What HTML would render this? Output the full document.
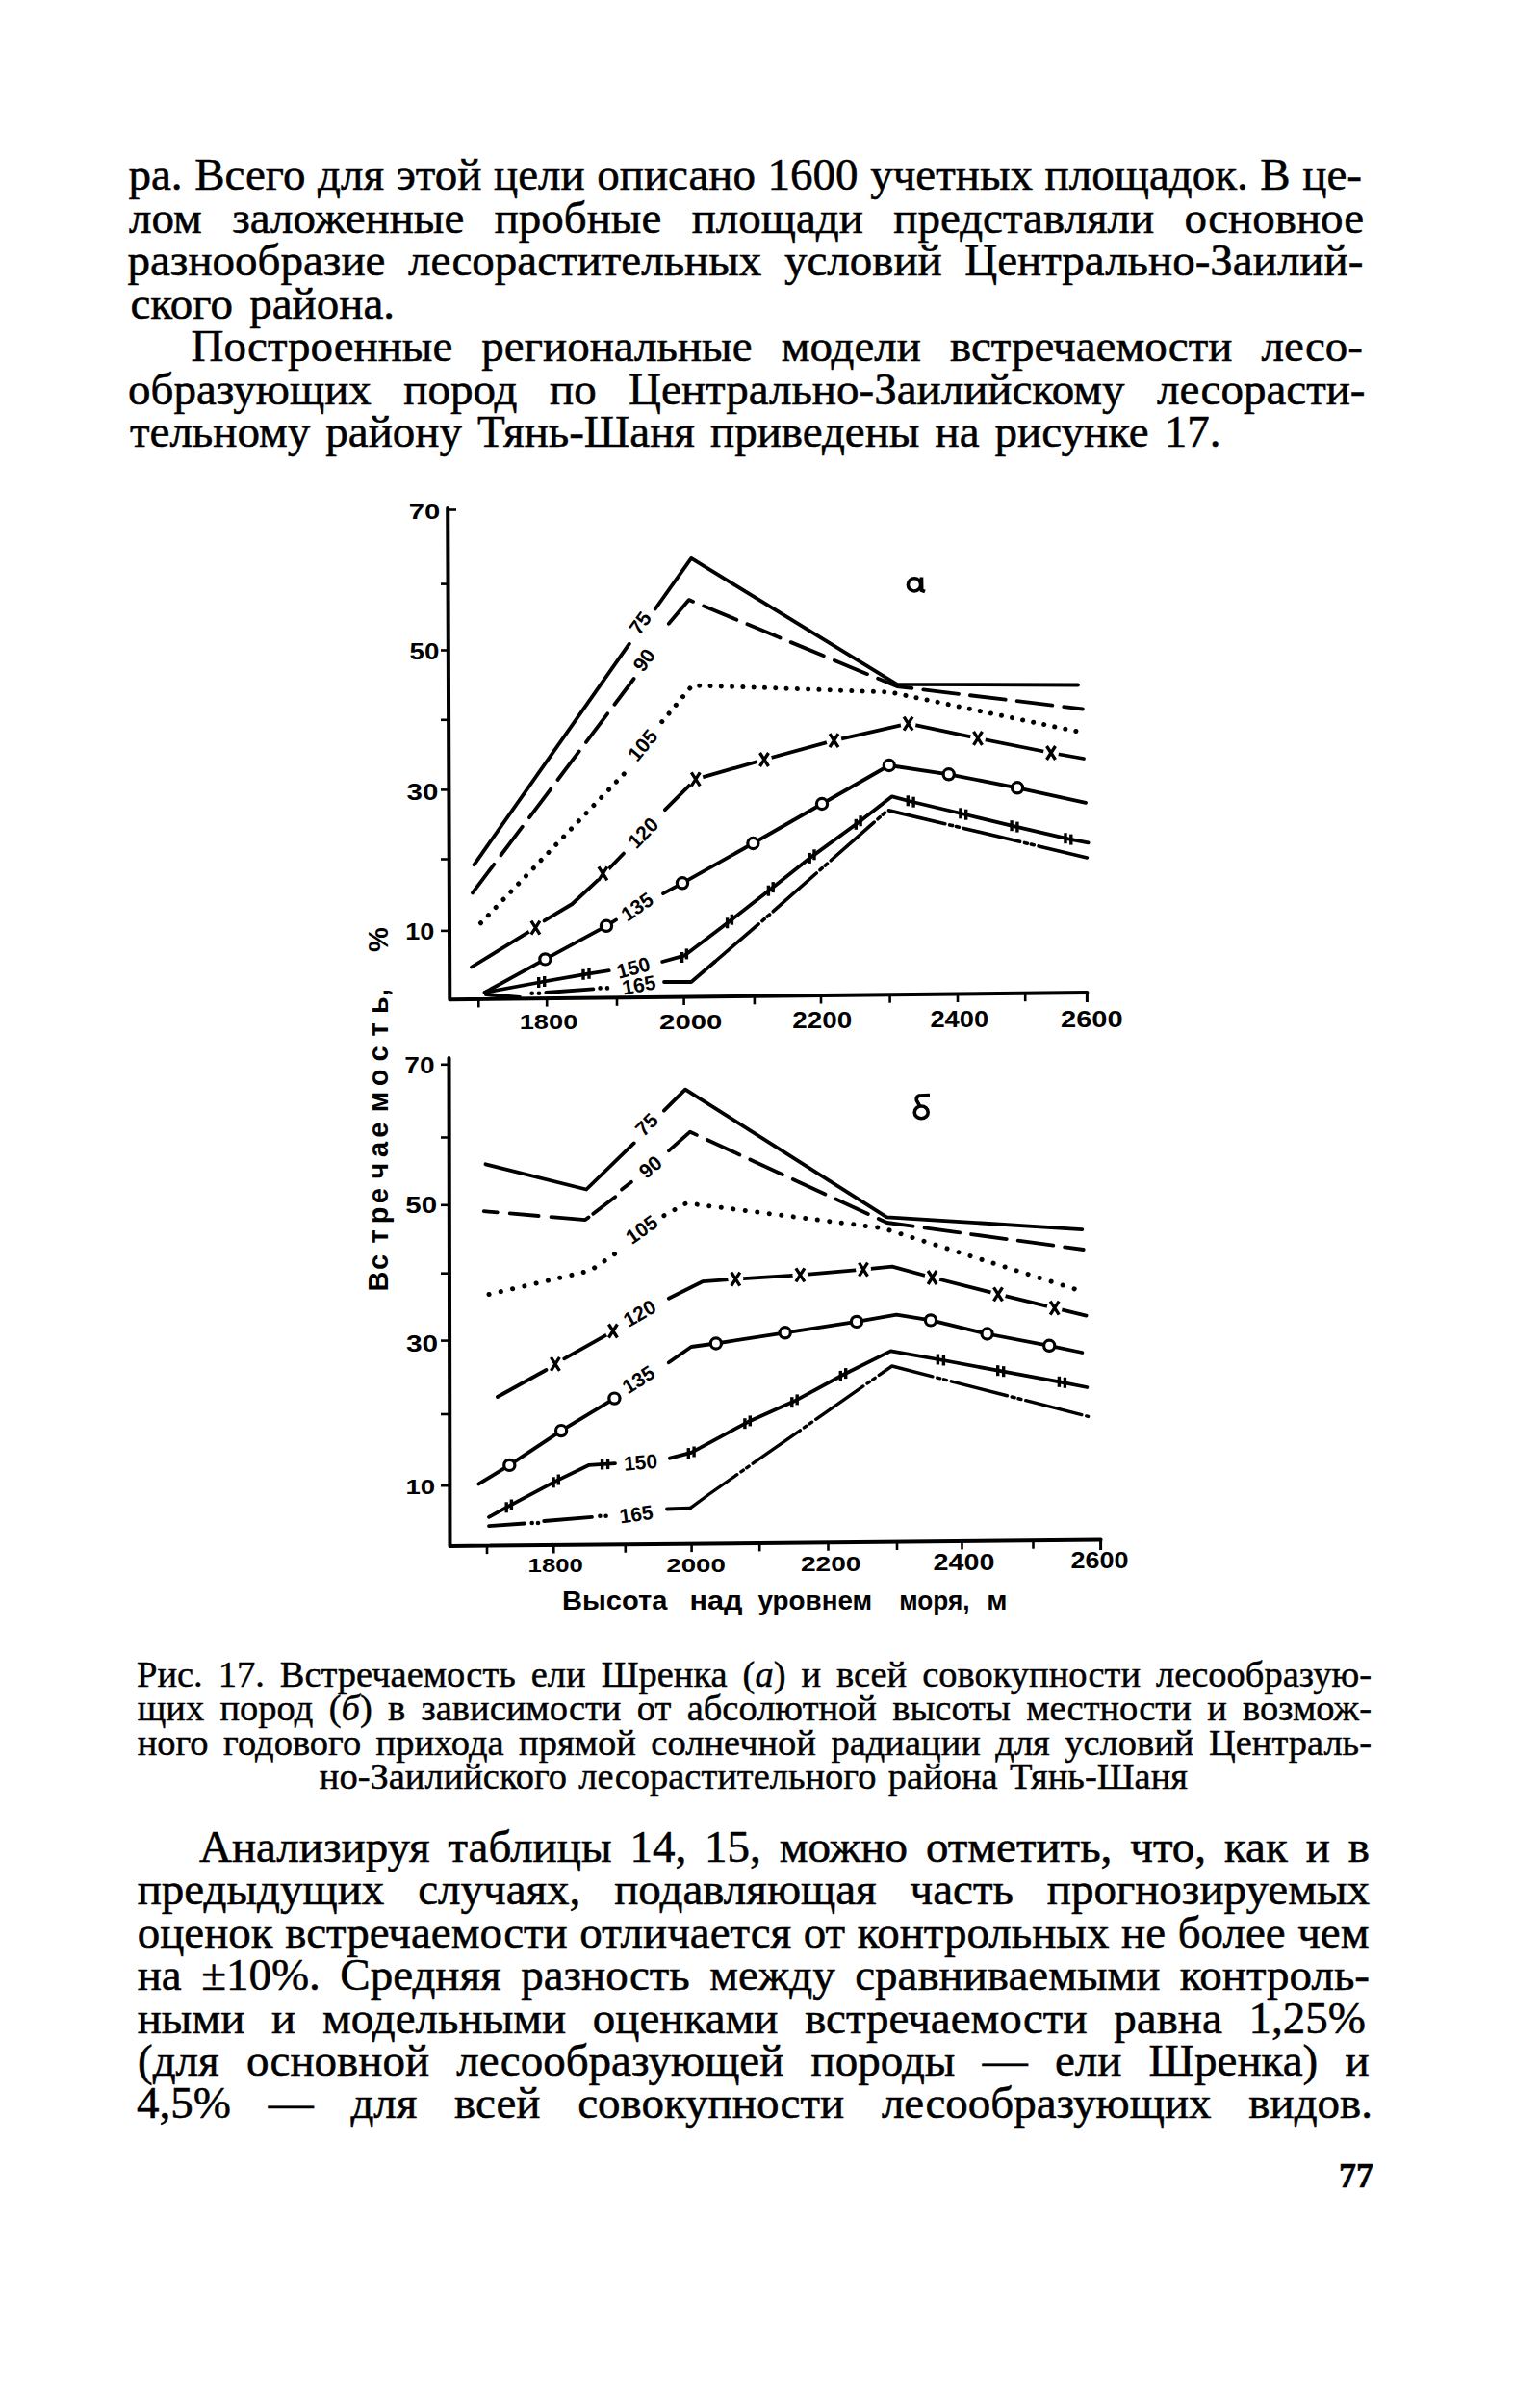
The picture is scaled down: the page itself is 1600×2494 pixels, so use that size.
<!DOCTYPE html>
<html><head><meta charset="utf-8"><style>
html,body{margin:0;padding:0;background:#fff;}
body{width:1600px;height:2494px;position:relative;overflow:hidden;}
.l{position:absolute;white-space:nowrap;font-family:"Liberation Serif",serif;color:#000;-webkit-text-stroke:0.55px #000;}
.b{font-size:47px;line-height:50px;height:50px;}
.c{font-size:38.5px;line-height:40px;height:40px;-webkit-text-stroke:0.45px #000;}
.j{text-align:justify;text-align-last:justify;}
svg{position:absolute;left:0;top:0;}
</style></head><body>

<div class="l b j" style="left:133.5px;top:156.1px;width:1281.5px;">ра. Всего для этой цели описано 1600 учетных площадок. В це-</div>
<div class="l b j" style="left:134.0px;top:200.6px;width:1283.0px;">лом заложенные пробные площади представляли основное</div>
<div class="l b j" style="left:132.5px;top:245.1px;width:1283.8px;">разнообразие лесорастительных условий Центрально-Заилий-</div>
<div class="l b j" style="left:135.5px;top:289.6px;width:274.5px;">ского района.</div>
<div class="l b j" style="left:198.5px;top:334.1px;width:1217.5px;">Построенные региональные модели встречаемости лесо-</div>
<div class="l b j" style="left:133.0px;top:378.6px;width:1285.5px;">образующих пород по Центрально-Заилийскому лесорасти-</div>
<div class="l b j" style="left:135.0px;top:423.1px;width:1133.5px;">тельному району Тянь-Шаня приведены на рисунке 17.</div>
<div class="l c j" style="left:142.0px;top:1718.8px;width:1283.0px;">Рис. 17. Встречаемость ели Шренка (<i>а</i>) и всей совокупности лесообразую-</div>
<div class="l c j" style="left:142.7px;top:1754.0px;width:1282.3px;">щих пород (<i>б</i>) в зависимости от абсолютной высоты местности и возмож-</div>
<div class="l c j" style="left:142.7px;top:1789.5px;width:1282.3px;">ного годового прихода прямой солнечной радиации для условий Централь-</div>
<div class="l c j" style="left:331.8px;top:1825.0px;width:902.2px;">но-Заилийского лесорастительного района Тянь-Шаня</div>
<div class="l b j" style="left:207.0px;top:1892.6px;width:1216.0px;">Анализируя таблицы 14, 15, можно отметить, что, как и в</div>
<div class="l b j" style="left:142.7px;top:1937.1px;width:1280.3px;">предыдущих случаях, подавляющая часть прогнозируемых</div>
<div class="l b j" style="left:142.7px;top:1981.6px;width:1279.8px;">оценок встречаемости отличается от контрольных не более чем</div>
<div class="l b j" style="left:142.7px;top:2026.1px;width:1280.3px;">на ±10%. Средняя разность между сравниваемыми контроль-</div>
<div class="l b j" style="left:142.7px;top:2070.6px;width:1276.3px;">ными и модельными оценками встречаемости равна 1,25%</div>
<div class="l b j" style="left:143.0px;top:2115.1px;width:1279.6px;">(для основной лесообразующей породы — ели Шренка) и</div>
<div class="l b j" style="left:142.0px;top:2158.6px;width:1284.0px;">4,5% — для всей совокупности лесообразующих видов.</div>
<div class="l" style="font-size:36px;font-weight:bold;line-height:40px;left:1391px;top:2239.8px">77</div>
<svg width="1600" height="2494" viewBox="0 0 1600 2494" font-family="Liberation Sans, sans-serif">
<polyline points="465.2,528.0 467.3,1038.2 1129.4,1031.0" fill="none" stroke="#000" stroke-linejoin="round" stroke-linecap="round" stroke-width="4" stroke-linecap="butt" stroke-linejoin="miter"/>
<path d="M466.5,529.5L474.0,529.5" stroke="#000" stroke-width="2.6"/>
<path d="M458.0,606.6L467.0,606.6" stroke="#000" stroke-width="2.6"/>
<path d="M458.0,675.5L467.0,675.5" stroke="#000" stroke-width="2.6"/>
<path d="M458.0,747.8L467.0,747.8" stroke="#000" stroke-width="2.6"/>
<path d="M458.0,820.4L467.0,820.4" stroke="#000" stroke-width="2.6"/>
<path d="M458.0,892.5L467.0,892.5" stroke="#000" stroke-width="2.6"/>
<path d="M458.0,966.9L467.0,966.9" stroke="#000" stroke-width="2.6"/>
<path d="M497.3,1037.9L497.3,1046.4" stroke="#000" stroke-width="2.6"/>
<path d="M568.2,1037.1L568.2,1045.6" stroke="#000" stroke-width="2.6"/>
<path d="M641.0,1036.3L641.0,1044.8" stroke="#000" stroke-width="2.6"/>
<path d="M710.6,1035.5L710.6,1044.0" stroke="#000" stroke-width="2.6"/>
<path d="M783.9,1034.8L783.9,1043.3" stroke="#000" stroke-width="2.6"/>
<path d="M853.0,1034.0L853.0,1042.5" stroke="#000" stroke-width="2.6"/>
<path d="M924.6,1033.2L924.6,1041.7" stroke="#000" stroke-width="2.6"/>
<path d="M995.0,1032.5L995.0,1041.0" stroke="#000" stroke-width="2.6"/>
<path d="M1065.2,1031.7L1065.2,1040.2" stroke="#000" stroke-width="2.6"/>
<path d="M1129.4,1031.0L1129.4,1041.0" stroke="#000" stroke-width="3"/>
<text x="424.7" y="539.1" font-size="21.2" font-weight="bold" textLength="32.5" lengthAdjust="spacingAndGlyphs" >70</text>
<text x="425.6" y="685.0" font-size="23.2" font-weight="bold" textLength="30.8" lengthAdjust="spacingAndGlyphs" >50</text>
<text x="422.6" y="830.5" font-size="23.2" font-weight="bold" textLength="32.8" lengthAdjust="spacingAndGlyphs" >30</text>
<text x="421.3" y="975.5" font-size="23.2" font-weight="bold" textLength="30.1" lengthAdjust="spacingAndGlyphs" >10</text>
<text x="539.7" y="1069.0" font-size="22.5" font-weight="bold" textLength="60.7" lengthAdjust="spacingAndGlyphs" >1800</text>
<text x="685.1" y="1069.0" font-size="21.7" font-weight="bold" textLength="65.2" lengthAdjust="spacingAndGlyphs" >2000</text>
<text x="823.3" y="1068.0" font-size="23.2" font-weight="bold" textLength="62.0" lengthAdjust="spacingAndGlyphs" >2200</text>
<text x="966.4" y="1066.7" font-size="23.2" font-weight="bold" textLength="60.8" lengthAdjust="spacingAndGlyphs" >2400</text>
<text x="1102.0" y="1066.7" font-size="24.6" font-weight="bold" textLength="64.7" lengthAdjust="spacingAndGlyphs" >2600</text>
<ellipse cx="950" cy="607.4" rx="6.6" ry="6.6" fill="none" stroke="#000" stroke-width="3.6"/><path d="M957.4,599.5 L957.6,613.2 L961,614.6" fill="none" stroke="#000" stroke-width="3.8"/>
<polyline points="492.5,898.3 653.9,668.7" fill="none" stroke="#000" stroke-linejoin="round" stroke-linecap="round" stroke-width="3.8"/>
<polyline points="680.8,632.5 718.2,579.9 932.0,710.8 1120.0,711.5" fill="none" stroke="#000" stroke-linejoin="round" stroke-linecap="round" stroke-width="3.8"/>
<text x="0" y="0" font-size="21" font-weight="bold" text-anchor="middle" dominant-baseline="central" stroke="#000" stroke-width="0" transform="translate(665.0 647.0) rotate(-54.0)">75</text>
<polyline points="491.0,927.4 658.6,705.0" fill="none" stroke="#000" stroke-linejoin="round" stroke-linecap="round" stroke-width="3.8" stroke-dasharray="37 12" stroke-linecap="butt"/>
<polyline points="694.8,647.7 715.8,623.1 932.0,713.0 1124.8,736.5" fill="none" stroke="#000" stroke-linejoin="round" stroke-linecap="round" stroke-width="3.8" stroke-dasharray="37 12" stroke-linecap="butt"/>
<text x="0" y="0" font-size="21" font-weight="bold" text-anchor="middle" dominant-baseline="central" stroke="#000" stroke-width="0" transform="translate(669.0 685.5) rotate(-54.0)">90</text>
<polyline points="499.5,958.8 651.4,800.6" fill="none" stroke="#000" stroke-linejoin="round" stroke-linecap="round" stroke-width="5" stroke-dasharray="0.1 11.2"/>
<polyline points="687.8,749.7 719.3,712.0 780.0,713.8 925.0,719.0 1124.8,761.0" fill="none" stroke="#000" stroke-linejoin="round" stroke-linecap="round" stroke-width="5" stroke-dasharray="0.1 11.2"/>
<text x="0" y="0" font-size="21" font-weight="bold" text-anchor="middle" dominant-baseline="central" stroke="#000" stroke-width="0" transform="translate(667.5 774.0) rotate(-50.0)">105</text>
<polyline points="490.0,1004.5 556.4,963.6" fill="none" stroke="#000" stroke-linejoin="round" stroke-linecap="round" stroke-width="3.8"/>
<polyline points="565.5,956.4 594.5,939.0 621.8,913.6 648.0,886.5" fill="none" stroke="#000" stroke-linejoin="round" stroke-linecap="round" stroke-width="3.8"/>
<polyline points="690.9,841.2 722.8,809.4 794.0,789.0 866.5,769.2 943.6,751.7 1016.0,766.9 1092.0,782.0 1126.0,788.0" fill="none" stroke="#000" stroke-linejoin="round" stroke-linecap="round" stroke-width="3.8"/>
<circle cx="556.4" cy="963.6" r="8" fill="#fff"/>
<path d="M551.9,956.6L560.9,970.6M560.9,956.6L551.9,970.6" stroke="#000" stroke-width="3.3" fill="none"/>
<circle cx="626.4" cy="907.3" r="8" fill="#fff"/>
<path d="M621.9,900.3L630.9,914.3M630.9,900.3L621.9,914.3" stroke="#000" stroke-width="3.3" fill="none"/>
<circle cx="722.8" cy="809.4" r="8" fill="#fff"/>
<path d="M718.3,802.4L727.3,816.4M727.3,802.4L718.3,816.4" stroke="#000" stroke-width="3.3" fill="none"/>
<circle cx="794.0" cy="789.0" r="8" fill="#fff"/>
<path d="M789.5,782.0L798.5,796.0M798.5,782.0L789.5,796.0" stroke="#000" stroke-width="3.3" fill="none"/>
<circle cx="866.5" cy="769.2" r="8" fill="#fff"/>
<path d="M862.0,762.2L871.0,776.2M871.0,762.2L862.0,776.2" stroke="#000" stroke-width="3.3" fill="none"/>
<circle cx="943.6" cy="751.7" r="8" fill="#fff"/>
<path d="M939.1,744.7L948.1,758.7M948.1,744.7L939.1,758.7" stroke="#000" stroke-width="3.3" fill="none"/>
<circle cx="1016.0" cy="766.9" r="8" fill="#fff"/>
<path d="M1011.5,759.9L1020.5,773.9M1020.5,759.9L1011.5,773.9" stroke="#000" stroke-width="3.3" fill="none"/>
<circle cx="1092.0" cy="782.0" r="8" fill="#fff"/>
<path d="M1087.5,775.0L1096.5,789.0M1096.5,775.0L1087.5,789.0" stroke="#000" stroke-width="3.3" fill="none"/>
<text x="0" y="0" font-size="21" font-weight="bold" text-anchor="middle" dominant-baseline="central" stroke="#000" stroke-width="0" transform="translate(668.0 865.0) rotate(-46.0)">120</text>
<polyline points="503.6,1030.9 566.4,996.4 630.0,961.8 640.0,955.5" fill="none" stroke="#000" stroke-linejoin="round" stroke-linecap="round" stroke-width="3.8"/>
<polyline points="689.0,928.2 709.0,917.3 782.4,876.0 854.0,835.0 923.8,795.0 985.7,804.3 1057.0,818.3 1128.0,833.8" fill="none" stroke="#000" stroke-linejoin="round" stroke-linecap="round" stroke-width="3.8"/>
<circle cx="566.4" cy="996.4" r="5.6" fill="#fff" stroke="#000" stroke-width="3.2"/>
<circle cx="630.0" cy="961.8" r="5.6" fill="#fff" stroke="#000" stroke-width="3.2"/>
<circle cx="709.0" cy="917.3" r="5.6" fill="#fff" stroke="#000" stroke-width="3.2"/>
<circle cx="782.4" cy="876.0" r="5.6" fill="#fff" stroke="#000" stroke-width="3.2"/>
<circle cx="854.0" cy="835.0" r="5.6" fill="#fff" stroke="#000" stroke-width="3.2"/>
<circle cx="923.8" cy="795.0" r="5.6" fill="#fff" stroke="#000" stroke-width="3.2"/>
<circle cx="985.7" cy="804.3" r="5.6" fill="#fff" stroke="#000" stroke-width="3.2"/>
<circle cx="1057.0" cy="818.3" r="5.6" fill="#fff" stroke="#000" stroke-width="3.2"/>
<text x="0" y="0" font-size="21" font-weight="bold" text-anchor="middle" dominant-baseline="central" stroke="#000" stroke-width="0" transform="translate(661.8 941.7) rotate(-35.0)">135</text>
<polyline points="503.6,1030.9 562.7,1020.0 609.0,1011.8 632.7,1008.2" fill="none" stroke="#000" stroke-linejoin="round" stroke-linecap="round" stroke-width="3.8"/>
<polyline points="688.2,999.0 711.0,992.7 756.4,958.2 800.8,923.4 843.6,889.6 891.7,854.5 926.8,827.3 946.2,832.5 1000.8,845.5 1054.0,858.4 1109.9,871.4 1130.6,875.3" fill="none" stroke="#000" stroke-linejoin="round" stroke-linecap="round" stroke-width="3.8"/>
<path d="M559.7,1015.0L559.7,1026.0" stroke="#000" stroke-width="3.4"/>
<path d="M565.7,1014.0L565.7,1025.0" stroke="#000" stroke-width="3.4"/>
<path d="M606.0,1006.8L606.0,1017.8" stroke="#000" stroke-width="3.4"/>
<path d="M612.0,1005.8L612.0,1016.8" stroke="#000" stroke-width="3.4"/>
<path d="M708.6,989.0L708.6,1000.0" stroke="#000" stroke-width="3.4"/>
<path d="M713.4,985.4L713.4,996.4" stroke="#000" stroke-width="3.4"/>
<path d="M755.6,953.3L755.6,964.3" stroke="#000" stroke-width="3.4"/>
<path d="M760.4,949.7L760.4,960.7" stroke="#000" stroke-width="3.4"/>
<path d="M798.4,919.7L798.4,930.7" stroke="#000" stroke-width="3.4"/>
<path d="M803.2,916.1L803.2,927.1" stroke="#000" stroke-width="3.4"/>
<path d="M841.2,885.9L841.2,896.9" stroke="#000" stroke-width="3.4"/>
<path d="M846.0,882.3L846.0,893.3" stroke="#000" stroke-width="3.4"/>
<path d="M889.3,850.8L889.3,861.8" stroke="#000" stroke-width="3.4"/>
<path d="M894.1,847.2L894.1,858.2" stroke="#000" stroke-width="3.4"/>
<path d="M943.3,826.3L943.3,837.3" stroke="#000" stroke-width="3.4"/>
<path d="M949.1,827.7L949.1,838.7" stroke="#000" stroke-width="3.4"/>
<path d="M997.9,839.3L997.9,850.3" stroke="#000" stroke-width="3.4"/>
<path d="M1003.7,840.7L1003.7,851.7" stroke="#000" stroke-width="3.4"/>
<path d="M1051.1,852.2L1051.1,863.2" stroke="#000" stroke-width="3.4"/>
<path d="M1056.9,853.6L1056.9,864.6" stroke="#000" stroke-width="3.4"/>
<path d="M1107.0,865.2L1107.0,876.2" stroke="#000" stroke-width="3.4"/>
<path d="M1112.8,866.6L1112.8,877.6" stroke="#000" stroke-width="3.4"/>
<text x="0" y="0" font-size="21" font-weight="bold" text-anchor="middle" dominant-baseline="central" stroke="#000" stroke-width="0" transform="translate(658.0 1005.0) rotate(-15.0)">150</text>
<polyline points="505.0,1033.0 540.0,1036.0" fill="none" stroke="#000" stroke-linejoin="round" stroke-linecap="round" stroke-width="4"/>
<circle cx="552.7" cy="1031.8" r="2.3"/><circle cx="560" cy="1031.8" r="2.3"/>
<polyline points="567.3,1031.0 616.4,1027.3" fill="none" stroke="#000" stroke-linejoin="round" stroke-linecap="round" stroke-width="3.8"/>
<circle cx="623.6" cy="1026.4" r="2.3"/><circle cx="631" cy="1026.4" r="2.3"/>
<polyline points="690.0,1020.0 718.2,1020.0 742.7,999.0" fill="none" stroke="#000" stroke-linejoin="round" stroke-linecap="round" stroke-width="3.8"/>
<polyline points="742.7,999.0 800.0,949.6 922.3,841.6 1129.4,890.9" fill="none" stroke="#000" stroke-linejoin="round" stroke-linecap="round" stroke-width="3.6" stroke-dasharray="60 5 3 4 3 5" stroke-linecap="butt"/>
<text x="0" y="0" font-size="21" font-weight="bold" text-anchor="middle" dominant-baseline="central" stroke="#000" stroke-width="0" transform="translate(663.7 1023.0) rotate(-10.0)">165</text>
<polyline points="466.5,1099.0 467.5,1606.0 1143.6,1599.5" fill="none" stroke="#000" stroke-linejoin="round" stroke-linecap="round" stroke-width="4" stroke-linecap="butt" stroke-linejoin="miter"/>
<path d="M458.0,1105.8L467.0,1105.8" stroke="#000" stroke-width="2.6"/>
<path d="M458.0,1181.5L467.0,1181.5" stroke="#000" stroke-width="2.6"/>
<path d="M458.0,1251.8L467.0,1251.8" stroke="#000" stroke-width="2.6"/>
<path d="M458.0,1322.7L467.0,1322.7" stroke="#000" stroke-width="2.6"/>
<path d="M458.0,1392.6L467.0,1392.6" stroke="#000" stroke-width="2.6"/>
<path d="M458.0,1469.0L467.0,1469.0" stroke="#000" stroke-width="2.6"/>
<path d="M458.0,1543.2L467.0,1543.2" stroke="#000" stroke-width="2.6"/>
<path d="M506.0,1605.6L506.0,1614.1" stroke="#000" stroke-width="2.6"/>
<path d="M575.3,1605.0L575.3,1613.5" stroke="#000" stroke-width="2.6"/>
<path d="M649.8,1604.2L649.8,1612.7" stroke="#000" stroke-width="2.6"/>
<path d="M718.6,1603.6L718.6,1612.1" stroke="#000" stroke-width="2.6"/>
<path d="M789.2,1602.9L789.2,1611.4" stroke="#000" stroke-width="2.6"/>
<path d="M860.5,1602.2L860.5,1610.7" stroke="#000" stroke-width="2.6"/>
<path d="M932.0,1601.5L932.0,1610.0" stroke="#000" stroke-width="2.6"/>
<path d="M999.5,1600.9L999.5,1609.4" stroke="#000" stroke-width="2.6"/>
<path d="M1073.5,1600.2L1073.5,1608.7" stroke="#000" stroke-width="2.6"/>
<path d="M1143.6,1599.5L1143.6,1610.0" stroke="#000" stroke-width="3"/>
<text x="420.3" y="1114.5" font-size="24.6" font-weight="bold" textLength="31.2" lengthAdjust="spacingAndGlyphs" >70</text>
<text x="421.3" y="1260.0" font-size="23.2" font-weight="bold" textLength="32.8" lengthAdjust="spacingAndGlyphs" >50</text>
<text x="422.0" y="1403.5" font-size="23.2" font-weight="bold" textLength="33.2" lengthAdjust="spacingAndGlyphs" >30</text>
<text x="421.5" y="1552.0" font-size="22.6" font-weight="bold" textLength="30.7" lengthAdjust="spacingAndGlyphs" >10</text>
<text x="548.6" y="1633.2" font-size="20.7" font-weight="bold" textLength="57.2" lengthAdjust="spacingAndGlyphs" >1800</text>
<text x="692.3" y="1632.7" font-size="21.0" font-weight="bold" textLength="61.6" lengthAdjust="spacingAndGlyphs" >2000</text>
<text x="831.9" y="1632.0" font-size="22.5" font-weight="bold" textLength="62.5" lengthAdjust="spacingAndGlyphs" >2200</text>
<text x="969.5" y="1631.0" font-size="23.2" font-weight="bold" textLength="63.9" lengthAdjust="spacingAndGlyphs" >2400</text>
<text x="1112.4" y="1628.5" font-size="23.9" font-weight="bold" textLength="60.0" lengthAdjust="spacingAndGlyphs" >2600</text>
<ellipse cx="957.2" cy="1155.4" rx="7" ry="6.4" fill="none" stroke="#000" stroke-width="3.6"/><path d="M966,1137.6 L955,1138 Q951.5,1139.5 952.3,1143 L955.5,1148.5" fill="none" stroke="#000" stroke-width="3.6"/>
<polyline points="504.5,1209.3 609.2,1235.5 658.7,1187.4" fill="none" stroke="#000" stroke-linejoin="round" stroke-linecap="round" stroke-width="3.8"/>
<polyline points="689.9,1153.6 712.0,1131.6 921.4,1264.3 1124.3,1277.1" fill="none" stroke="#000" stroke-linejoin="round" stroke-linecap="round" stroke-width="3.8"/>
<text x="0" y="0" font-size="21" font-weight="bold" text-anchor="middle" dominant-baseline="central" stroke="#000" stroke-width="0" transform="translate(671.7 1168.0) rotate(-45.0)">75</text>
<polyline points="502.8,1258.2 608.0,1267.1 639.2,1243.2" fill="none" stroke="#000" stroke-linejoin="round" stroke-linecap="round" stroke-width="3.8" stroke-dasharray="14 13 30 13 40 6 40" stroke-linecap="butt"/>
<polyline points="695.0,1195.2 717.0,1175.7 921.4,1270.0 1125.7,1298.0" fill="none" stroke="#000" stroke-linejoin="round" stroke-linecap="round" stroke-width="3.8" stroke-dasharray="37 12" stroke-linecap="butt"/>
<polyline points="646.0,1235.5 656.0,1227.8" fill="none" stroke="#000" stroke-linejoin="round" stroke-linecap="round" stroke-width="3.8" stroke-linecap="butt"/>
<text x="0" y="0" font-size="21" font-weight="bold" text-anchor="middle" dominant-baseline="central" stroke="#000" stroke-width="0" transform="translate(675.6 1212.0) rotate(-40.0)">90</text>
<polyline points="508.0,1344.5 613.2,1319.9 641.8,1300.4" fill="none" stroke="#000" stroke-linejoin="round" stroke-linecap="round" stroke-width="5" stroke-dasharray="0.1 12.5"/>
<polyline points="689.9,1262.7 713.2,1249.7 917.0,1275.7 1124.3,1341.4" fill="none" stroke="#000" stroke-linejoin="round" stroke-linecap="round" stroke-width="5" stroke-dasharray="0.1 12.5"/>
<text x="0" y="0" font-size="21" font-weight="bold" text-anchor="middle" dominant-baseline="central" stroke="#000" stroke-width="0" transform="translate(666.5 1277.0) rotate(-35.0)">105</text>
<polyline points="516.9,1451.0 567.5,1423.0" fill="none" stroke="#000" stroke-linejoin="round" stroke-linecap="round" stroke-width="3.8"/>
<polyline points="586.2,1411.3 630.6,1386.4" fill="none" stroke="#000" stroke-linejoin="round" stroke-linecap="round" stroke-width="3.8"/>
<polyline points="694.8,1348.7 729.9,1331.2 764.3,1328.6 831.4,1324.3 897.0,1318.6 927.0,1315.7 968.6,1327.0 1037.0,1344.3 1095.7,1358.6 1128.6,1366.6" fill="none" stroke="#000" stroke-linejoin="round" stroke-linecap="round" stroke-width="3.8"/>
<circle cx="576.9" cy="1416.8" r="8" fill="#fff"/>
<path d="M572.4,1409.8L581.4,1423.8M581.4,1409.8L572.4,1423.8" stroke="#000" stroke-width="3.3" fill="none"/>
<circle cx="636.9" cy="1382.5" r="8" fill="#fff"/>
<path d="M632.4,1375.5L641.4,1389.5M641.4,1375.5L632.4,1389.5" stroke="#000" stroke-width="3.3" fill="none"/>
<circle cx="764.3" cy="1328.6" r="8" fill="#fff"/>
<path d="M759.8,1321.6L768.8,1335.6M768.8,1321.6L759.8,1335.6" stroke="#000" stroke-width="3.3" fill="none"/>
<circle cx="831.4" cy="1324.3" r="8" fill="#fff"/>
<path d="M826.9,1317.3L835.9,1331.3M835.9,1317.3L826.9,1331.3" stroke="#000" stroke-width="3.3" fill="none"/>
<circle cx="897.0" cy="1318.6" r="8" fill="#fff"/>
<path d="M892.5,1311.6L901.5,1325.6M901.5,1311.6L892.5,1325.6" stroke="#000" stroke-width="3.3" fill="none"/>
<circle cx="968.6" cy="1327.0" r="8" fill="#fff"/>
<path d="M964.1,1320.0L973.1,1334.0M973.1,1320.0L964.1,1334.0" stroke="#000" stroke-width="3.3" fill="none"/>
<circle cx="1037.0" cy="1344.3" r="8" fill="#fff"/>
<path d="M1032.5,1337.3L1041.5,1351.3M1041.5,1337.3L1032.5,1351.3" stroke="#000" stroke-width="3.3" fill="none"/>
<circle cx="1095.7" cy="1358.6" r="8" fill="#fff"/>
<path d="M1091.2,1351.6L1100.2,1365.6M1100.2,1351.6L1091.2,1365.6" stroke="#000" stroke-width="3.3" fill="none"/>
<text x="0" y="0" font-size="21" font-weight="bold" text-anchor="middle" dominant-baseline="central" stroke="#000" stroke-width="0" transform="translate(664.4 1364.0) rotate(-30.0)">120</text>
<polyline points="497.4,1541.4 529.3,1521.9 583.1,1486.1 638.4,1452.6" fill="none" stroke="#000" stroke-linejoin="round" stroke-linecap="round" stroke-width="3.8"/>
<polyline points="694.8,1415.3 718.2,1399.0 743.9,1395.5 815.7,1384.3 890.0,1372.9 931.4,1365.7 967.0,1371.4 1025.6,1385.5 1090.2,1397.8 1124.3,1405.0" fill="none" stroke="#000" stroke-linejoin="round" stroke-linecap="round" stroke-width="3.8"/>
<circle cx="529.3" cy="1521.9" r="5.6" fill="#fff" stroke="#000" stroke-width="3.2"/>
<circle cx="583.1" cy="1486.1" r="5.6" fill="#fff" stroke="#000" stroke-width="3.2"/>
<circle cx="638.4" cy="1452.6" r="5.6" fill="#fff" stroke="#000" stroke-width="3.2"/>
<circle cx="743.9" cy="1395.5" r="5.6" fill="#fff" stroke="#000" stroke-width="3.2"/>
<circle cx="815.7" cy="1384.3" r="5.6" fill="#fff" stroke="#000" stroke-width="3.2"/>
<circle cx="890.0" cy="1372.9" r="5.6" fill="#fff" stroke="#000" stroke-width="3.2"/>
<circle cx="967.0" cy="1371.4" r="5.6" fill="#fff" stroke="#000" stroke-width="3.2"/>
<circle cx="1025.6" cy="1385.5" r="5.6" fill="#fff" stroke="#000" stroke-width="3.2"/>
<circle cx="1090.2" cy="1397.8" r="5.6" fill="#fff" stroke="#000" stroke-width="3.2"/>
<text x="0" y="0" font-size="21" font-weight="bold" text-anchor="middle" dominant-baseline="central" stroke="#000" stroke-width="0" transform="translate(663.2 1433.0) rotate(-33.0)">135</text>
<polyline points="508.0,1575.8 528.8,1564.4 577.7,1538.4 612.0,1521.8 639.0,1520.2" fill="none" stroke="#000" stroke-linejoin="round" stroke-linecap="round" stroke-width="3.8"/>
<polyline points="696.0,1514.7 718.2,1508.8 776.6,1477.3 825.5,1455.3 876.0,1428.0 925.5,1403.4 977.4,1412.5 1039.7,1424.2 1103.4,1435.8 1129.4,1441.0" fill="none" stroke="#000" stroke-linejoin="round" stroke-linecap="round" stroke-width="3.8"/>
<path d="M526.2,1560.3L526.2,1571.3" stroke="#000" stroke-width="3.4"/>
<path d="M531.4,1557.5L531.4,1568.5" stroke="#000" stroke-width="3.4"/>
<path d="M575.1,1534.3L575.1,1545.3" stroke="#000" stroke-width="3.4"/>
<path d="M580.3,1531.5L580.3,1542.5" stroke="#000" stroke-width="3.4"/>
<path d="M625.6,1515.5L625.6,1526.5" stroke="#000" stroke-width="3.4"/>
<path d="M631.6,1515.1L631.6,1526.1" stroke="#000" stroke-width="3.4"/>
<path d="M715.3,1504.1L715.3,1515.1" stroke="#000" stroke-width="3.4"/>
<path d="M721.1,1502.5L721.1,1513.5" stroke="#000" stroke-width="3.4"/>
<path d="M773.9,1473.2L773.9,1484.2" stroke="#000" stroke-width="3.4"/>
<path d="M779.3,1470.4L779.3,1481.4" stroke="#000" stroke-width="3.4"/>
<path d="M822.8,1451.2L822.8,1462.2" stroke="#000" stroke-width="3.4"/>
<path d="M828.2,1448.4L828.2,1459.4" stroke="#000" stroke-width="3.4"/>
<path d="M873.3,1423.9L873.3,1434.9" stroke="#000" stroke-width="3.4"/>
<path d="M878.7,1421.1L878.7,1432.1" stroke="#000" stroke-width="3.4"/>
<path d="M974.4,1406.5L974.4,1417.5" stroke="#000" stroke-width="3.4"/>
<path d="M980.4,1407.5L980.4,1418.5" stroke="#000" stroke-width="3.4"/>
<path d="M1036.7,1418.2L1036.7,1429.2" stroke="#000" stroke-width="3.4"/>
<path d="M1042.7,1419.2L1042.7,1430.2" stroke="#000" stroke-width="3.4"/>
<path d="M1100.4,1429.8L1100.4,1440.8" stroke="#000" stroke-width="3.4"/>
<path d="M1106.4,1430.8L1106.4,1441.8" stroke="#000" stroke-width="3.4"/>
<text x="0" y="0" font-size="21" font-weight="bold" text-anchor="middle" dominant-baseline="central" stroke="#000" stroke-width="0" transform="translate(665.5 1518.7) rotate(-5.0)">150</text>
<polyline points="508.0,1585.2 545.0,1582.5" fill="none" stroke="#000" stroke-linejoin="round" stroke-linecap="round" stroke-width="3.8"/>
<circle cx="552.7" cy="1582" r="2.3"/><circle cx="559" cy="1582" r="2.3"/>
<polyline points="565.2,1580.0 615.0,1575.8" fill="none" stroke="#000" stroke-linejoin="round" stroke-linecap="round" stroke-width="3.8"/>
<circle cx="623.4" cy="1574.8" r="2.3"/><circle cx="629.6" cy="1574.8" r="2.3"/>
<polyline points="693.0,1567.5 717.0,1566.6" fill="none" stroke="#000" stroke-linejoin="round" stroke-linecap="round" stroke-width="3.8"/>
<polyline points="717.0,1566.6 736.9,1552.0 800.0,1507.7 926.8,1419.0 1130.6,1471.4" fill="none" stroke="#000" stroke-linejoin="round" stroke-linecap="round" stroke-width="3.4" stroke-dasharray="60 5 3 4 3 5" stroke-linecap="butt"/>
<text x="0" y="0" font-size="21" font-weight="bold" text-anchor="middle" dominant-baseline="central" stroke="#000" stroke-width="0" transform="translate(661.0 1572.7) rotate(-8.0)">165</text>
<text x="0" y="0" font-size="29" font-weight="bold" text-anchor="middle" transform="translate(402.5 1331) rotate(-90)">В</text>
<text x="0" y="0" font-size="29" font-weight="bold" text-anchor="middle" transform="translate(402.5 1311) rotate(-90)">с</text>
<text x="0" y="0" font-size="29" font-weight="bold" text-anchor="middle" transform="translate(402.5 1284.5) rotate(-90)">т</text>
<text x="0" y="0" font-size="29" font-weight="bold" text-anchor="middle" transform="translate(402.5 1262.5) rotate(-90)">р</text>
<text x="0" y="0" font-size="29" font-weight="bold" text-anchor="middle" transform="translate(402.5 1242.3) rotate(-90)">е</text>
<text x="0" y="0" font-size="29" font-weight="bold" text-anchor="middle" transform="translate(402.5 1216) rotate(-90)">ч</text>
<text x="0" y="0" font-size="29" font-weight="bold" text-anchor="middle" transform="translate(402.5 1194) rotate(-90)">а</text>
<text x="0" y="0" font-size="29" font-weight="bold" text-anchor="middle" transform="translate(402.5 1173.7) rotate(-90)">е</text>
<text x="0" y="0" font-size="29" font-weight="bold" text-anchor="middle" transform="translate(402.5 1144.5) rotate(-90)">м</text>
<text x="0" y="0" font-size="29" font-weight="bold" text-anchor="middle" transform="translate(402.5 1119.5) rotate(-90)">о</text>
<text x="0" y="0" font-size="29" font-weight="bold" text-anchor="middle" transform="translate(402.5 1094.5) rotate(-90)">с</text>
<text x="0" y="0" font-size="29" font-weight="bold" text-anchor="middle" transform="translate(402.5 1069.5) rotate(-90)">т</text>
<text x="0" y="0" font-size="29" font-weight="bold" text-anchor="middle" transform="translate(402.5 1044) rotate(-90)">ь</text>
<text x="0" y="0" font-size="29" font-weight="bold" text-anchor="middle" transform="translate(402.5 1031) rotate(-90)">,</text>
<text x="0" y="0" font-size="29" font-weight="bold" text-anchor="middle" transform="translate(402.5 976) rotate(-90)">%</text>
<text x="584.0" y="1672" font-size="28" font-weight="bold" textLength="109.3" lengthAdjust="spacingAndGlyphs">Высота</text>
<text x="716.5" y="1672" font-size="28" font-weight="bold" textLength="55.0" lengthAdjust="spacingAndGlyphs">над</text>
<text x="787.5" y="1672" font-size="28" font-weight="bold" textLength="118.7" lengthAdjust="spacingAndGlyphs">уровнем</text>
<text x="934.3" y="1672" font-size="28" font-weight="bold" textLength="73.2" lengthAdjust="spacingAndGlyphs">моря,</text>
<text x="1025.3" y="1672" font-size="28" font-weight="bold" textLength="21.2" lengthAdjust="spacingAndGlyphs">м</text>
</svg>
</body></html>
